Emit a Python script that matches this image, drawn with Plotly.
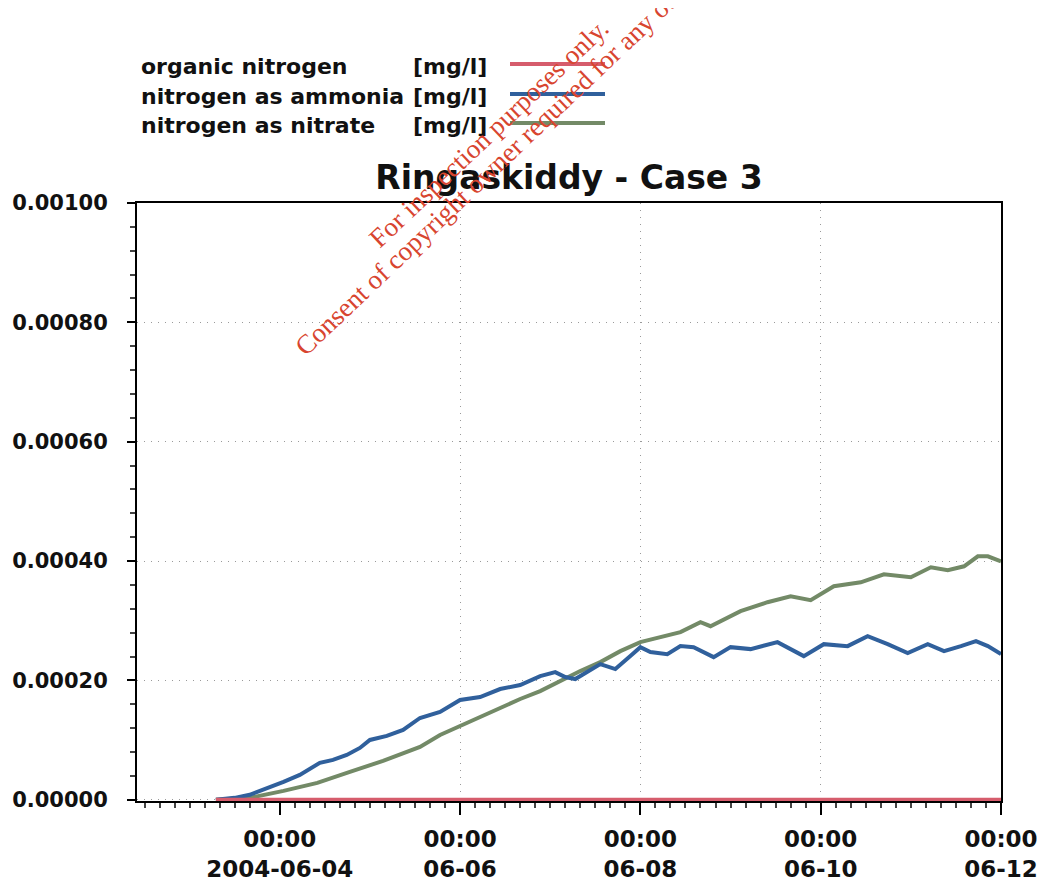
import plotly.graph_objects as go

# ---------------- data ----------------
series_names = ["organic nitrogen", "nitrogen as ammonia", "nitrogen as nitrate"]
series_units = ["[mg/l]", "[mg/l]", "[mg/l]"]
series_colors = ["#d65c6c", "#30609c", "#738a67"]

organic_times = ["2004-06-03 07:00", "2004-06-05 00:00", "2004-06-07 00:00",
                 "2004-06-09 00:00", "2004-06-11 00:00", "2004-06-12 00:00"]
organic_values = [0, 0, 0, 0, 0, 0]

ammonia_times = [
    "2004-06-03 07:00", "2004-06-03 12:00", "2004-06-03 16:00", "2004-06-03 20:30",
    "2004-06-04 01:00", "2004-06-04 05:20", "2004-06-04 10:40", "2004-06-04 14:10",
    "2004-06-04 17:50", "2004-06-04 21:20", "2004-06-05 00:00", "2004-06-05 04:30",
    "2004-06-05 08:50", "2004-06-05 13:20", "2004-06-05 18:40", "2004-06-06 00:00",
    "2004-06-06 05:20", "2004-06-06 10:40", "2004-06-06 16:00", "2004-06-06 21:20",
    "2004-06-07 01:20", "2004-06-07 04:00", "2004-06-07 06:40", "2004-06-07 13:20",
    "2004-06-07 17:20", "2004-06-07 21:20", "2004-06-08 00:00", "2004-06-08 02:40",
    "2004-06-08 07:10", "2004-06-08 10:40", "2004-06-08 14:10", "2004-06-08 19:30",
    "2004-06-09 00:00", "2004-06-09 05:20", "2004-06-09 12:30", "2004-06-09 19:30",
    "2004-06-10 00:50", "2004-06-10 07:10", "2004-06-10 12:30", "2004-06-10 17:50",
    "2004-06-10 23:10", "2004-06-11 04:30", "2004-06-11 08:50", "2004-06-11 13:20",
    "2004-06-11 17:20", "2004-06-11 20:30", "2004-06-12 00:00"]
ammonia_values = [
    0.0, 0.0000033, 0.0000084, 0.0000184,
    0.0000301, 0.0000418, 0.0000619, 0.0000669,
    0.0000752, 0.0000869, 0.0001003, 0.0001070,
    0.0001171, 0.0001371, 0.0001472, 0.0001672,
    0.0001722, 0.0001856, 0.0001923, 0.0002073,
    0.0002140, 0.0002057, 0.0002023, 0.0002274,
    0.0002190, 0.0002408, 0.0002558, 0.0002475,
    0.0002441, 0.0002575, 0.0002558, 0.0002391,
    0.0002558, 0.0002525, 0.0002642, 0.0002408,
    0.0002608, 0.0002575, 0.0002742, 0.0002608,
    0.0002458, 0.0002608, 0.0002491, 0.0002575,
    0.0002658, 0.0002575, 0.0002441]

nitrate_times = [
    "2004-06-03 07:00", "2004-06-03 16:00", "2004-06-04 01:00", "2004-06-04 10:00",
    "2004-06-04 18:40", "2004-06-05 03:30", "2004-06-05 13:20", "2004-06-05 18:40",
    "2004-06-06 00:00", "2004-06-06 05:20", "2004-06-06 10:40", "2004-06-06 16:00",
    "2004-06-06 21:20", "2004-06-07 02:40", "2004-06-07 08:00", "2004-06-07 13:20",
    "2004-06-07 18:40", "2004-06-08 00:00", "2004-06-08 05:20", "2004-06-08 10:40",
    "2004-06-08 16:00", "2004-06-08 18:40", "2004-06-09 02:40", "2004-06-09 09:50",
    "2004-06-09 16:00", "2004-06-09 21:20", "2004-06-10 03:30", "2004-06-10 10:40",
    "2004-06-10 16:50", "2004-06-11 00:00", "2004-06-11 05:20", "2004-06-11 09:50",
    "2004-06-11 14:10", "2004-06-11 17:50", "2004-06-11 20:30", "2004-06-12 00:00"]
nitrate_values = [
    0.0, 0.0000033, 0.0000150, 0.0000284,
    0.0000468, 0.0000652, 0.0000886, 0.0001087,
    0.0001237, 0.0001388, 0.0001538, 0.0001689,
    0.0001822, 0.0001990, 0.0002157, 0.0002307,
    0.0002491, 0.0002642, 0.0002725, 0.0002809,
    0.0002976, 0.0002909, 0.0003160, 0.0003311,
    0.0003411, 0.0003344, 0.0003578, 0.0003645,
    0.0003779, 0.0003729, 0.0003896, 0.0003846,
    0.0003913, 0.0004080, 0.0004080, 0.0003996]

x_tick_vals = ["2004-06-04", "2004-06-06", "2004-06-08", "2004-06-10", "2004-06-12"]
x_tick_text = ["00:00<br>2004-06-04", "00:00<br>06-06", "00:00<br>06-08",
               "00:00<br>06-10", "00:00<br>06-12"]
x_grid_vals = ["2004-06-06", "2004-06-08", "2004-06-10"]
y_tick_vals = [0.0, 0.0002, 0.0004, 0.0006, 0.0008, 0.001]
x_range = ["2004-06-02 10:00", "2004-06-12 00:00"]
y_range = [-0.000002, 0.001]

title_text = "Ringaskiddy - Case 3"
watermark_lines = ["For inspection purposes only.",
                   "Consent of copyright owner required for any other use."]

# ---------------- figure ----------------
FONT = "DejaVu Sans"
OFF = 8  # page body margin in the browser
FIG_W, FIG_H = 1045 - OFF, 889 - OFF
fig = go.Figure()

all_times = [organic_times, ammonia_times, nitrate_times]
all_values = [organic_values, ammonia_values, nitrate_values]
for i in [2, 1, 0]:
    fig.add_trace(go.Scatter(
        x=all_times[i], y=all_values[i], mode="lines", name=series_names[i],
        line=dict(color=series_colors[i], width=4), showlegend=False))

# invisible trace to host the vertical grid axis
fig.add_trace(go.Scatter(x=x_range, y=[None, None], xaxis="x2", showlegend=False,
                         hoverinfo="skip"))

x_tick_font = dict(family=FONT, size=23, color="#111111", weight="bold")
y_tick_font = dict(family=FONT, size=21, color="#111111", weight="bold")

fig.update_layout(
    width=FIG_W, height=FIG_H, autosize=False,
    margin=dict(l=137 - OFF, r=44, t=203 - OFF, b=88, autoexpand=False),
    paper_bgcolor="white", plot_bgcolor="white",
    title=dict(text=title_text, x=(569 - OFF) / FIG_W, xanchor="center",
               y=1 - (177 - OFF) / FIG_H, yanchor="middle", yref="container",
               font=dict(family=FONT, size=33, color="#111111", weight="bold")),
    xaxis=dict(
        type="date", range=x_range,
        tickmode="array", tickvals=x_tick_vals, ticktext=x_tick_text,
        tickfont=x_tick_font,
        ticks="outside", ticklen=12, tickwidth=1.5, tickcolor="black",
        ticklabelstandoff=4,
        showgrid=False, zeroline=False,
        showline=True, linecolor="black", linewidth=2, mirror=True,
        layer="below traces",
        minor=dict(dtick=4 * 3600 * 1000, tick0="2004-06-04", ticks="outside",
                   ticklen=5, tickcolor="#444444", showgrid=False),
    ),
    xaxis2=dict(
        type="date", range=x_range, overlaying="x", side="bottom",
        tickmode="array", tickvals=x_grid_vals, showticklabels=False,
        ticks="", showgrid=True, gridcolor="#9a9a9a", griddash="1px,6px", gridwidth=1,
        zeroline=False, showline=False, layer="below traces",
    ),
    yaxis=dict(
        range=y_range, tickmode="array", tickvals=y_tick_vals,
        tickformat=".5f",
        tickfont=y_tick_font,
        ticks="outside", ticklen=8, tickwidth=1.5, tickcolor="black",
        ticklabelstandoff=15,
        showgrid=True, gridcolor="#9a9a9a", griddash="1px,6px", gridwidth=1,
        zeroline=False,
        showline=True, linecolor="black", linewidth=2, mirror=True,
        layer="below traces",
        minor=dict(dtick=0.00004, tick0=0, ticks="outside", ticklen=5,
                   tickcolor="#444444", showgrid=False),
    ),
)

# ---------------- legend (text left, line sample right) ----------------
PLOT_L, PLOT_W, PLOT_B, PLOT_H = 137, 864, 801, 598
def px(xp):
    return (xp - PLOT_L) / PLOT_W
def py(yp):
    return (PLOT_B - yp) / PLOT_H

legend_font = dict(family=FONT, size=22, color="#111111", weight="bold")
legend_rows_y = [66, 96, 125]
for i, name in enumerate(series_names):
    yy = legend_rows_y[i]
    fig.add_annotation(text=name, xref="paper", yref="paper",
                       x=px(139), y=py(yy), xanchor="left", yanchor="middle",
                       showarrow=False, font=legend_font)
    fig.add_annotation(text=series_units[i], xref="paper", yref="paper",
                       x=px(489), y=py(yy), xanchor="right", yanchor="middle",
                       showarrow=False, font=legend_font)
    fig.add_shape(type="line", xref="paper", yref="paper",
                  x0=px(510), x1=px(605), y0=py(yy - 2), y1=py(yy - 2),
                  line=dict(color=series_colors[i], width=4))

# ---------------- watermark ----------------
wm_centers = [(489, 133), (515, 146)]
for (cx, cy), txt in zip(wm_centers, watermark_lines):
    fig.add_annotation(text=txt, xref="paper", yref="paper", x=px(cx), y=py(cy),
                       xanchor="center", yanchor="middle", showarrow=False,
                       textangle=-43.5,
                       font=dict(family="Liberation Serif", size=27, color="#d8452f"))

fig.write_html("out.html")
